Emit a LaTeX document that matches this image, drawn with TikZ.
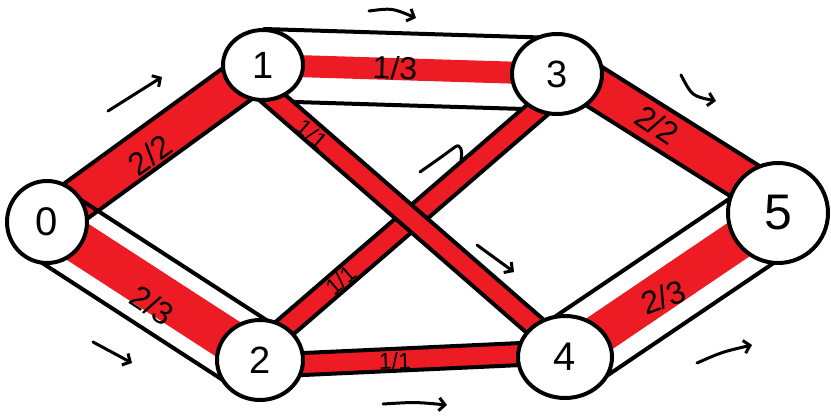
\documentclass[tikz,border=0pt]{standalone}
\usepackage{fontspec}
\setmainfont{Liberation Sans}
\usetikzlibrary{calc,shapes.geometric,arrows.meta}
\definecolor{paintred}{HTML}{ED1C24}
\pgfdeclarelayer{bg}
\pgfsetlayers{bg,main}
% pipe from #1 to #2: walls at +-#3, red band +-#4
\newcommand{\flowpipe}[4]{%
  \fill[paintred] ($(#1)!#4!90:(#2)$) -- ($(#2)!#4!-90:(#1)$) -- ($(#2)!#4!90:(#1)$) -- ($(#1)!#4!-90:(#2)$) -- cycle;
  \draw[wall] ($(#1)!#3!90:(#2)$) -- ($(#2)!#3!-90:(#1)$);
  \draw[wall] ($(#1)!#3!-90:(#2)$) -- ($(#2)!#3!90:(#1)$);
}
\tikzset{
  wall/.style={line width=4pt, line cap=round},
  vertex/.style={ellipse, draw, line width=4pt, fill=white, inner sep=0pt},
  flowlbl/.style={inner sep=0pt, font=\fontsize{32}{32}\selectfont},
  smalllbl/.style={inner sep=0pt, font=\fontsize{23}{23}\selectfont},
  flowarrow/.style={line width=3pt, line cap=round, line join=round, -{Straight Barb[length=6pt,width=13pt]}},
  hookarrow/.style={line width=3pt, line cap=round, line join=round},
}
\begin{document}
\begin{tikzpicture}[x=1pt,y=-1pt]
\useasboundingbox (0,0) rectangle (831,418);
% vertices
\node[vertex, minimum width=80pt, minimum height=82pt, font=\fontsize{40}{40}\selectfont] (n0) at (47,222) {0};
\node[vertex, minimum width=80pt, minimum height=70pt, font=\fontsize{38}{38}\selectfont] (n1) at (263,65) {1};
\node[vertex, minimum width=86pt, minimum height=80pt, font=\fontsize{38}{38}\selectfont] (n2) at (260,360) {2};
\node[vertex, minimum width=90pt, minimum height=80pt, font=\fontsize{38}{38}\selectfont] (n3) at (557,74) {3};
\node[vertex, minimum width=94pt, minimum height=82pt, font=\fontsize{40}{40}\selectfont] (n4) at (565,357) {4};
\node[vertex, minimum width=100pt, minimum height=100pt, font=\fontsize{50}{50}\selectfont] (n5) at (778,213) {5};
% pipe end points
\coordinate (p14a) at ($(n1)+(-12,14)$);
\coordinate (p14b) at ($(n4)+(-6,-10)$);
\coordinate (p23a) at ($(n2)+(1.5,-12)$);
\coordinate (p23b) at ($(n3)+(4.5,15)$);
\coordinate (p24a) at ($(n2)+(0,6)$);
\coordinate (p24b) at ($(n4)+(0,-5)$);
\coordinate (p35a) at ($(n3)+(5,-8)$);
\coordinate (p35b) at ($(n5)+(5,-8)$);
\begin{pgfonlayer}{bg}
  \flowpipe{n0}{n1}{21pt}{21pt}
  \flowpipe{n0}{n2}{37pt}{21pt}
  \flowpipe{n1}{n3}{36pt}{11pt}
  \flowpipe{p23a}{p23b}{10.5pt}{10.5pt}
  \flowpipe{p14a}{p14b}{10.5pt}{10.5pt}
  \flowpipe{p24a}{p24b}{11pt}{11pt}
  \flowpipe{p35a}{p35b}{20.5pt}{20.5pt}
  \flowpipe{n4}{n5}{39pt}{20pt}
\end{pgfonlayer}
% flow labels
\node[flowlbl, rotate=36] (l01) at (150,155) {2/2};
\node[flowlbl, rotate=-33] (l02) at (152,305) {2/3};
\node[flowlbl, rotate=-1.5] (l13) at (395,68) {1/3};
\node[smalllbl, rotate=-41] (l14) at (312,134) {1/1};
\node[smalllbl, rotate=41] (l23) at (341,280) {1/1};
\node[smalllbl, rotate=2.5] (l24) at (395,361) {1/1};
\node[flowlbl, rotate=-34] (l35) at (657,125) {2/2};
\node[flowlbl, rotate=20] (l45) at (663,297) {2/3};
% direction arrows
\coordinate (a1s) at (108,111); \coordinate (a1e) at (162,77);
\coordinate (a2s) at (369,11);  \coordinate (a2e) at (416,18);
\coordinate (a3s) at (681,75);  \coordinate (a3e) at (716,101);
\coordinate (a4s) at (420,172); \coordinate (a4m) at (455,147); \coordinate (a4e) at (461,160);
\coordinate (a5s) at (477,245); \coordinate (a5e) at (514,272);
\coordinate (a6s) at (93,342);  \coordinate (a6e) at (132,363);
\coordinate (a7s) at (383,404); \coordinate (a7e) at (447,405);
\coordinate (a8s) at (697,363); \coordinate (a8e) at (752,345);
\draw[flowarrow] (a1s) -- (a1e);
\draw[flowarrow] (a2s) .. controls (392,8) .. (a2e);
\draw[flowarrow] (a3s) .. controls (692,96) .. (a3e);
\draw[hookarrow] (a4s) .. controls (440,158) .. (a4m) .. controls (460,143) and (463,150) .. (a4e);
\draw[flowarrow] (a5s) -- (a5e);
\draw[flowarrow] (a6s) -- (a6e);
\draw[flowarrow] (a7s) .. controls (415,402) .. (a7e);
\draw[flowarrow] (a8s) .. controls (722,352) .. (a8e);
\end{tikzpicture}
\end{document}
